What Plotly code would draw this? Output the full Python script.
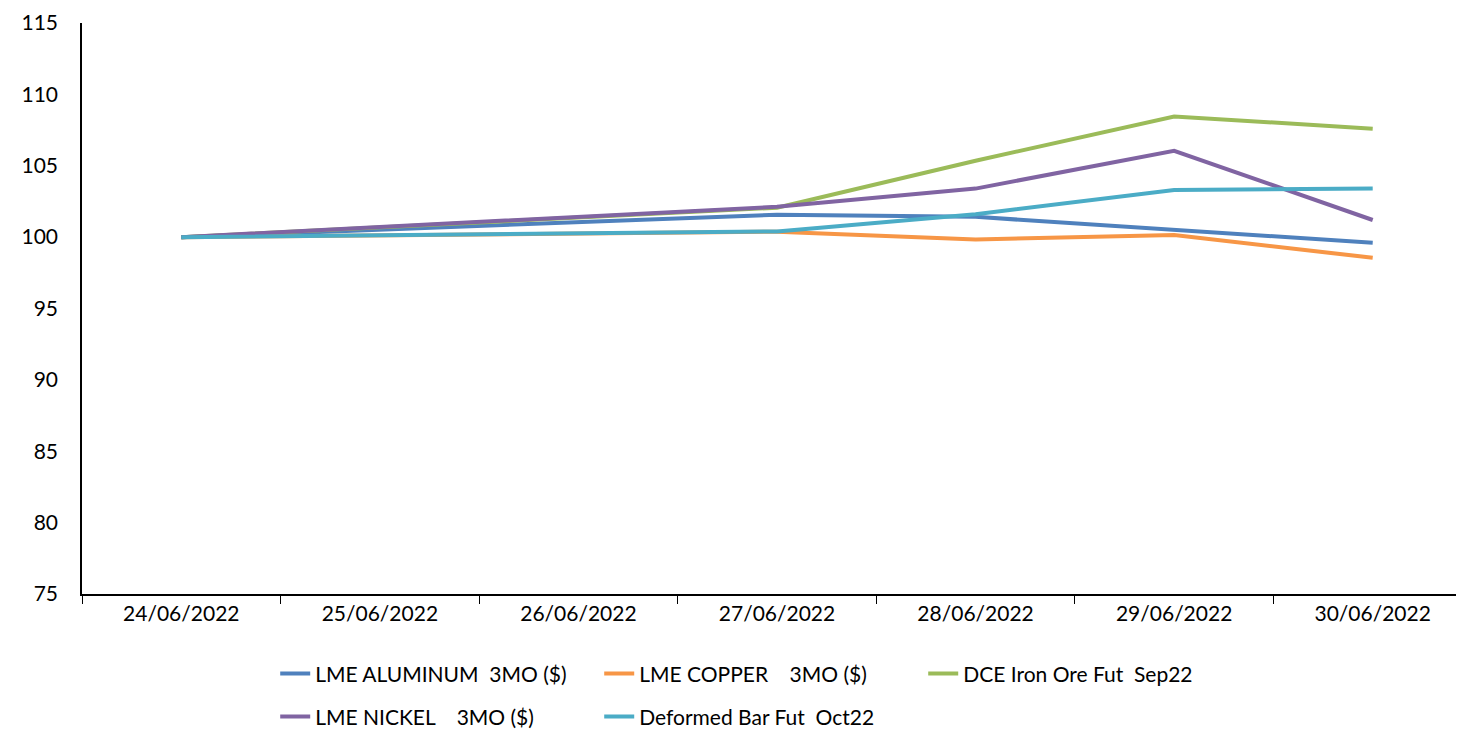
import plotly.graph_objects as go

dates = ["24/06/2022", "25/06/2022", "26/06/2022", "27/06/2022",
         "28/06/2022", "29/06/2022", "30/06/2022"]

aluminum = [100, 100.5, 101.05, 101.57, 101.42, 100.5, 99.6]
copper = [100, 100.12, 100.25, 100.38, 99.84, 100.15, 98.55]
iron_ore = [100, 100.68, 101.38, 102.06, 105.35, 108.45, 107.6]
nickel = [100, 100.72, 101.42, 102.13, 103.4, 106.05, 101.2]
deformed_bar = [100, 100.12, 100.25, 100.4, 101.6, 103.3, 103.4]

series = [
    ("LME ALUMINUM  3MO ($)", aluminum, "#4F81BD", "legend"),
    ("LME COPPER    3MO ($)", copper, "#F79646", "legend"),
    ("DCE Iron Ore Fut  Sep22", iron_ore, "#9BBB59", "legend"),
    ("LME NICKEL    3MO ($)", nickel, "#8064A2", "legend2"),
    ("Deformed Bar Fut  Oct22", deformed_bar, "#4BACC6", "legend2"),
]

FONT = "Lato, 'Noto Sans', sans-serif"

fig = go.Figure()
for name, vals, color, leg in series:
    fig.add_trace(go.Scatter(
        x=dates, y=vals, mode="lines", name=name.replace("  ", "\u00a0\u00a0"),
        line=dict(color=color, width=4), legend=leg,
    ))

# the page adds an 8px body margin, so margins are offset by that
legend_common = dict(orientation="h", x=0.139, xanchor="left", yanchor="middle",
                     entrywidth=279, entrywidthmode="pixels", traceorder="normal",
                     font=dict(size=21), bgcolor="rgba(0,0,0,0)")

fig.update_layout(
    width=1464, height=744,
    margin=dict(l=74, r=0, t=15, b=158, autoexpand=False),
    paper_bgcolor="white", plot_bgcolor="white",
    font=dict(family=FONT, size=21, color="black"),
    showlegend=True,
    legend=dict(legend_common, y=-0.14),
    legend2=dict(legend_common, y=-0.215),
    xaxis=dict(type="category", range=[-0.5, 6.5], showgrid=False,
               showline=True, linecolor="black", linewidth=1.5,
               ticks="outside", tickson="boundaries", ticklen=8, tickcolor="black",
               tickfont=dict(size=21)),
    yaxis=dict(range=[75, 115], dtick=5, showgrid=False, zeroline=False,
               showline=True, linecolor="black", linewidth=1.5,
               ticks="", ticklabelstandoff=18, tickfont=dict(size=21),
               ticklabeloverflow="allow"),
)

fig.write_html("out.html")
